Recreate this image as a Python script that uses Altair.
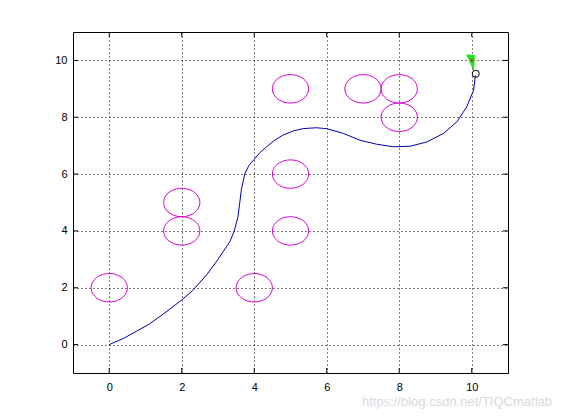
import altair as alt
import pandas as pd
import numpy as np

# Path (blue curve)
path_x = [0, 0.4, 0.75, 1.1, 1.4, 1.95, 2.3, 2.69, 3.0, 3.33, 3.45, 3.55, 3.6, 3.65, 3.74, 3.85,
          4.0, 4.15, 4.34, 4.55, 4.79, 5.08, 5.35, 5.7, 6.0, 6.46, 6.92, 7.38, 7.84, 8.3, 8.76,
          9.22, 9.59, 9.86, 10.05, 10.1]
path_y = [0, 0.22, 0.47, 0.72, 0.99, 1.52, 1.9, 2.46, 3.0, 3.63, 4.0, 4.5, 5.0, 5.5, 6.0, 6.3,
          6.52, 6.75, 6.96, 7.18, 7.37, 7.52, 7.6, 7.63, 7.6, 7.43, 7.19, 7.05, 6.96, 6.98, 7.13,
          7.43, 7.84, 8.36, 8.95, 9.47]

# Obstacles (magenta circles)
obs_x = [0, 2, 2, 4, 5, 5, 5, 7, 8, 8]
obs_y = [2, 4, 5, 2, 4, 6, 9, 9, 9, 8]
obs_r = 0.5

# Goal / robot markers
goal_x = [10.0]
goal_y = [10.0]
robot_x = [10.11]
robot_y = [9.53]

ticks = [0, 2, 4, 6, 8, 10]
watermark = "https://blog.csdn.net/TIQCmatlab"

W, H = 435, 341
FONT = "Liberation Sans"

xs = alt.Scale(domain=[-1, 11], nice=False, zero=False)
ys = alt.Scale(domain=[-1, 11], nice=False, zero=False)
xaxis = alt.Axis(values=ticks, ticks=False, domain=False, grid=True, gridDash=[1, 3],
                 gridColor="black", gridOpacity=1, labelFont=FONT, labelFontSize=11,
                 labelColor="black", labelPadding=8, title=None)
yaxis = alt.Axis(values=ticks, ticks=False, domain=False, grid=True, gridDash=[1, 3],
                 gridColor="black", gridOpacity=1, labelFont=FONT, labelFontSize=11,
                 labelColor="black", labelPadding=6, title=None)

# circle outlines
rows = []
for i, (cx, cy) in enumerate(zip(obs_x, obs_y)):
    for k in range(41):
        rows.append({"id": i, "cx": cx, "cy": cy, "k": k})
circ_df = pd.DataFrame(rows)
circles = alt.Chart(circ_df).transform_calculate(
    x=f"datum.cx + {obs_r}*cos(2*PI*datum.k/40)",
    y=f"datum.cy + {obs_r}*sin(2*PI*datum.k/40)",
).mark_line(color="#d400d4", strokeWidth=1).encode(
    x=alt.X("x:Q", scale=xs, axis=xaxis, title=None),
    y=alt.Y("y:Q", scale=ys, axis=yaxis, title=None),
    detail="id:N",
    order="k:Q",
)

path_df = pd.DataFrame({"x": path_x, "y": path_y, "i": range(len(path_x))})
path = alt.Chart(path_df).mark_line(color="#0000b0", strokeWidth=1).encode(
    x=alt.X("x:Q", scale=xs, title=None),
    y=alt.Y("y:Q", scale=ys, title=None),
    order="i:Q",
)

goal_df = pd.DataFrame({"x": goal_x, "y": goal_y})
tri = alt.Chart(goal_df).mark_point(
    shape="M-0.7,-0.75L0.4,-0.64L0.27,1.36Z", filled=True, color="#22dd22", opacity=1, size=260
).encode(x=alt.X("x:Q", scale=xs, title=None), y=alt.Y("y:Q", scale=ys, title=None))
reddot = alt.Chart(goal_df).mark_point(filled=True, color="red", opacity=1, size=5, shape="circle").encode(
    x=alt.X("x:Q", scale=xs, title=None), y=alt.Y("y:Q", scale=ys, title=None))

robot_df = pd.DataFrame({"x": robot_x, "y": robot_y})
robot = alt.Chart(robot_df).mark_point(shape="circle", filled=False, color="black", size=50,
                                       strokeWidth=1, opacity=1).encode(
    x=alt.X("x:Q", scale=xs, title=None), y=alt.Y("y:Q", scale=ys, title=None))

tick_df = pd.DataFrame({"t": ticks})
tb = alt.Chart(tick_df).mark_rule(color="black", strokeWidth=1).encode(
    x=alt.X("t:Q", scale=xs, title=None), y=alt.value(H), y2=alt.value(H - 5))
tt = alt.Chart(tick_df).mark_rule(color="black", strokeWidth=1).encode(
    x=alt.X("t:Q", scale=xs, title=None), y=alt.value(0), y2=alt.value(5))
tl = alt.Chart(tick_df).mark_rule(color="black", strokeWidth=1).encode(
    y=alt.Y("t:Q", scale=ys, title=None), x=alt.value(0), x2=alt.value(5))
tr = alt.Chart(tick_df).mark_rule(color="black", strokeWidth=1).encode(
    y=alt.Y("t:Q", scale=ys, title=None), x=alt.value(W), x2=alt.value(W - 5))

frame = alt.Chart(pd.DataFrame({"f": [0]})).mark_rect(
    fill=None, stroke="black", strokeWidth=1, fillOpacity=0
).encode(x=alt.value(0.5), x2=alt.value(W + 0.5), y=alt.value(0.5), y2=alt.value(H + 0.5))

wm = alt.Chart(pd.DataFrame({"s": [watermark]})).mark_text(
    align="right", baseline="middle", font=FONT, fontSize=13, color="#d9d9d9"
).encode(x=alt.value(479), y=alt.value(370), text="s:N")

chart = alt.layer(circles, path, tri, reddot, robot, tb, tt, tl, tr, frame, wm).properties(
    width=W, height=H,
    autosize=alt.AutoSizeParams(type="none"),
    padding={"left": 65, "top": 24, "right": 45, "bottom": 39},
).configure_view(stroke=None).configure(background="white")

chart.save("out.html", embed_options={"renderer": "svg", "actions": False})
